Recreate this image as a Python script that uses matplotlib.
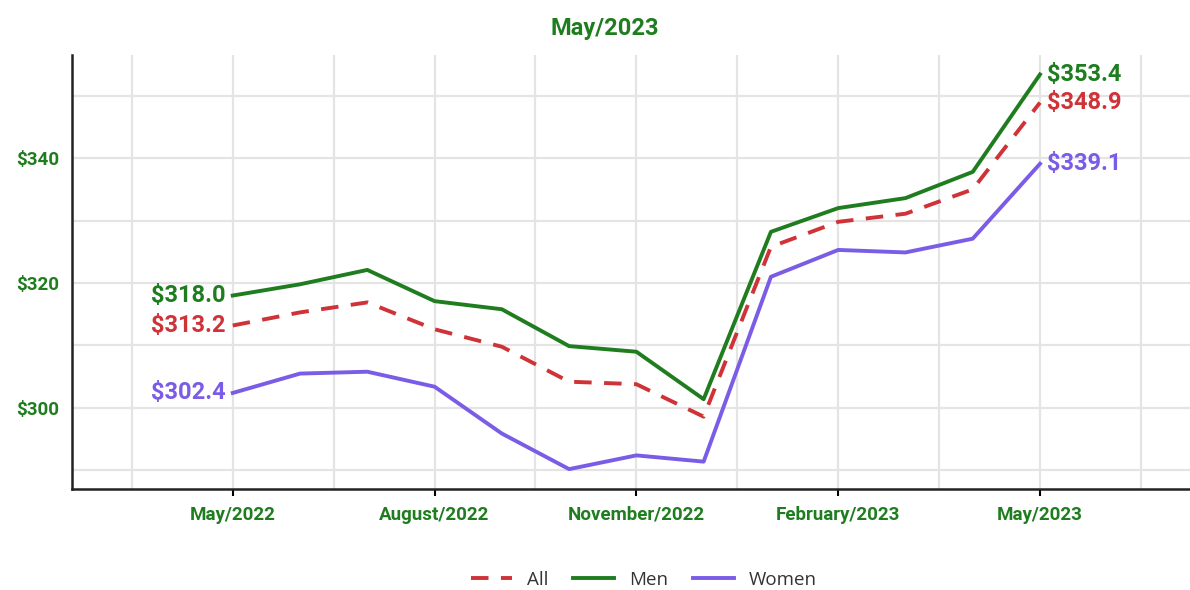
import matplotlib
matplotlib.use("Agg")
import matplotlib.pyplot as plt
from matplotlib.ticker import FixedLocator, NullFormatter

plt.rcParams['font.family'] = ['Roboto', 'DejaVu Sans']

# months from May/2022 (0) to May/2023 (12)
months = list(range(13))
tick_pos = [0, 3, 6, 9, 12]
tick_labels = ['May/2022', 'August/2022', 'November/2022', 'February/2023', 'May/2023']

all_vals = [313.2, 315.3, 316.9, 312.6, 309.8, 304.2, 303.8, 298.6, 325.8, 329.8, 331.1, 335.0, 348.9]
men_vals = [318.0, 319.8, 322.1, 317.1, 315.8, 309.9, 309.0, 301.4, 328.2, 332.0, 333.6, 337.8, 353.4]
women_vals = [302.4, 305.5, 305.8, 303.4, 295.9, 290.2, 292.4, 291.4, 321.0, 325.3, 324.9, 327.1, 339.1]

GREEN = '#1f7d1f'
RED = '#cf3237'
PURPLE = '#7b5ce6'

fig = plt.figure(figsize=(11.9, 5.9), dpi=100)
ax = fig.add_axes([0.0605, 0.171, 0.9395, 0.7356])

ax.plot(months, all_vals, color=RED, lw=2.8, ls=(0, (4.5, 3.2)), label='All', zorder=3)
ax.plot(months, men_vals, color=GREEN, lw=2.8, label='Men', zorder=4)
ax.plot(months, women_vals, color=PURPLE, lw=2.8, label='Women', zorder=3)

# start / end labels
for vals, col in ((men_vals, GREEN), (all_vals, RED), (women_vals, PURPLE)):
    ax.annotate(f'${vals[0]:.1f}', (months[0], vals[0]), xytext=(-5, 0), textcoords='offset points',
                ha='right', va='center', color=col, fontsize=17, fontweight='bold')
    ax.annotate(f'${vals[-1]:.1f}', (months[-1], vals[-1]), xytext=(5, 0), textcoords='offset points',
                ha='left', va='center', color=col, fontsize=17, fontweight='bold')

ax.set_xlim(-2.39, 14.23)
ax.set_ylim(287.0, 356.5)

ax.set_xticks(tick_pos)
ax.set_xticklabels(tick_labels)
ax.xaxis.set_minor_locator(FixedLocator([-1.5, 1.5, 4.5, 7.5, 10.5, 13.5]))
ax.set_yticks([300, 320, 340])
ax.set_yticklabels(['$300', '$320', '$340'])
ax.yaxis.set_minor_locator(FixedLocator([290, 310, 330, 350]))
ax.yaxis.set_minor_formatter(NullFormatter())

ax.grid(True, which='both', color='#e4e4e4', lw=1.6, zorder=0)
ax.tick_params(axis='x', which='major', length=5, width=1.5, color='black', pad=7,
               labelcolor=GREEN, labelsize=13.5)
ax.tick_params(axis='x', which='minor', length=0)
ax.tick_params(axis='y', which='both', length=0, pad=9, labelcolor=GREEN, labelsize=13.5)
for lab in ax.get_xticklabels() + ax.get_yticklabels():
    lab.set_fontweight('bold')

for side in ('top', 'right'):
    ax.spines[side].set_visible(False)
for side in ('left', 'bottom'):
    ax.spines[side].set_linewidth(1.8)
    ax.spines[side].set_color('#222222')

fig.text(605 / 1190, 1 - 28 / 590, 'May/2023', ha='center', va='center',
         color=GREEN, fontsize=17, fontweight='bold')

fig.legend(loc='center', bbox_to_anchor=(644 / 1190, 1 - 580 / 590), ncol=3, frameon=False,
           handlelength=2.2, columnspacing=1.3, labelcolor='#333333',
           prop={'family': ['Open Sans', 'DejaVu Sans'], 'size': 13.5})

fig.savefig('out.png', dpi=100)
